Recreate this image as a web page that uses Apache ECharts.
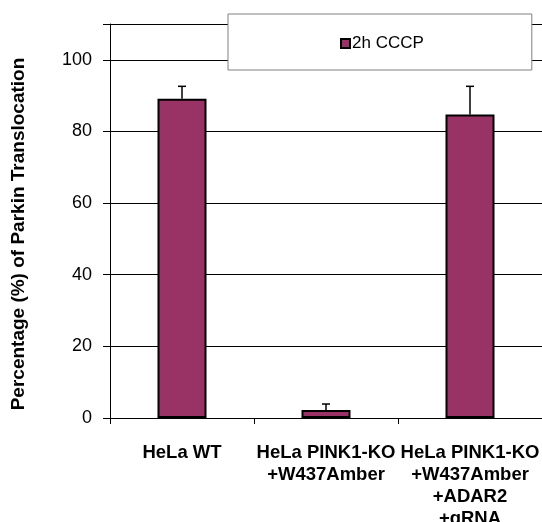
<!DOCTYPE html>
<html><head><meta charset="utf-8">
<script src="https://cdn.jsdelivr.net/npm/echarts@6/dist/echarts.min.js"></script>
<style>html,body{margin:0;padding:0;background:#fff}#c{width:542px;height:522px}</style>
</head><body><div id="c"></div>
<script>
const categories = ["HeLa WT", "HeLa PINK1-KO\n+W437Amber", "HeLa PINK1-KO\n+W437Amber\n+ADAR2\n+gRNA"];
const seriesName = "2h CCCP";
const values = [89.1, 2.2, 84.7];
const errors = [3.5, 1.7, 7.9];
const yTicks = [0, 20, 40, 60, 80, 100];
const yTitle = "Percentage (%) of Parkin Translocation";

const FONT = "'Liberation Sans', Arial, sans-serif";
const chart = echarts.init(document.getElementById('c'), null, {renderer: 'canvas'});
chart.setOption({
  animation: false,
  backgroundColor: '#fff',
  textStyle: {fontFamily: FONT},
  grid: {left: 110, right: 0, top: 24, bottom: 104, containLabel: false, outerBoundsMode: 'none'},
  legend: {
    left: 228, top: 14,
    data: [seriesName],
    backgroundColor: '#fff', borderColor: '#808080', borderWidth: 1,
    padding: [21, 108, 18, 112],
    itemWidth: 9, itemHeight: 9, itemGap: 4,
    textStyle: {fontFamily: FONT, fontSize: 17, color: '#000', padding: [0, 0, 0, -3]},
    icon: 'rect'
  },
  graphic: [{
    type: 'text', x: 19, y: 234, rotation: Math.PI / 2,
    style: {text: yTitle, font: "bold 19px 'Liberation Sans', Arial, sans-serif", fill: '#000',
      align: 'center', verticalAlign: 'middle'}
  }],
  xAxis: {
    type: 'category', data: categories,
    axisLine: {lineStyle: {color: '#000', width: 1}},
    axisTick: {show: true, length: 6, lineStyle: {color: '#000'}},
    axisLabel: {interval: 0, fontFamily: FONT, fontSize: 18.5, fontWeight: 'bold', color: '#000', margin: 24, lineHeight: 22}
  },
  yAxis: {
    type: 'value', min: 0, max: 110, interval: 20,
    axisLine: {show: true, lineStyle: {color: '#000', width: 1}},
    axisTick: {show: true, length: 7, lineStyle: {color: '#000'}},
    axisLabel: {fontFamily: FONT, fontSize: 18, color: '#000', margin: 18,
      formatter: v => yTicks.indexOf(v) >= 0 ? String(v) : ''},
    splitLine: {show: true, lineStyle: {color: '#000', width: 1}}
  },
  series: [
    {
      name: seriesName, type: 'bar', data: values, barWidth: 49,
      itemStyle: {color: '#993366', borderColor: '#000', borderWidth: 2}
    },
    {
      type: 'custom', name: 'err', silent: true,
      data: values.map((v, i) => [i, v, v + errors[i]]),
      encode: {x: 0, y: [1, 2]},
      renderItem: function (params, api) {
        const i = api.value(0);
        const lo = api.coord([i, api.value(1)]);
        const hi = api.coord([i, api.value(2)]);
        const cap = 4;
        const st = {stroke: '#000', lineWidth: 1.5};
        return {type: 'group', children: [
          {type: 'line', shape: {x1: lo[0], y1: lo[1], x2: hi[0], y2: hi[1]}, style: st},
          {type: 'line', shape: {x1: hi[0] - cap, y1: hi[1], x2: hi[0] + cap, y2: hi[1]}, style: st}
        ]};
      },
      z: 3
    }
  ]
});
</script></body></html>
